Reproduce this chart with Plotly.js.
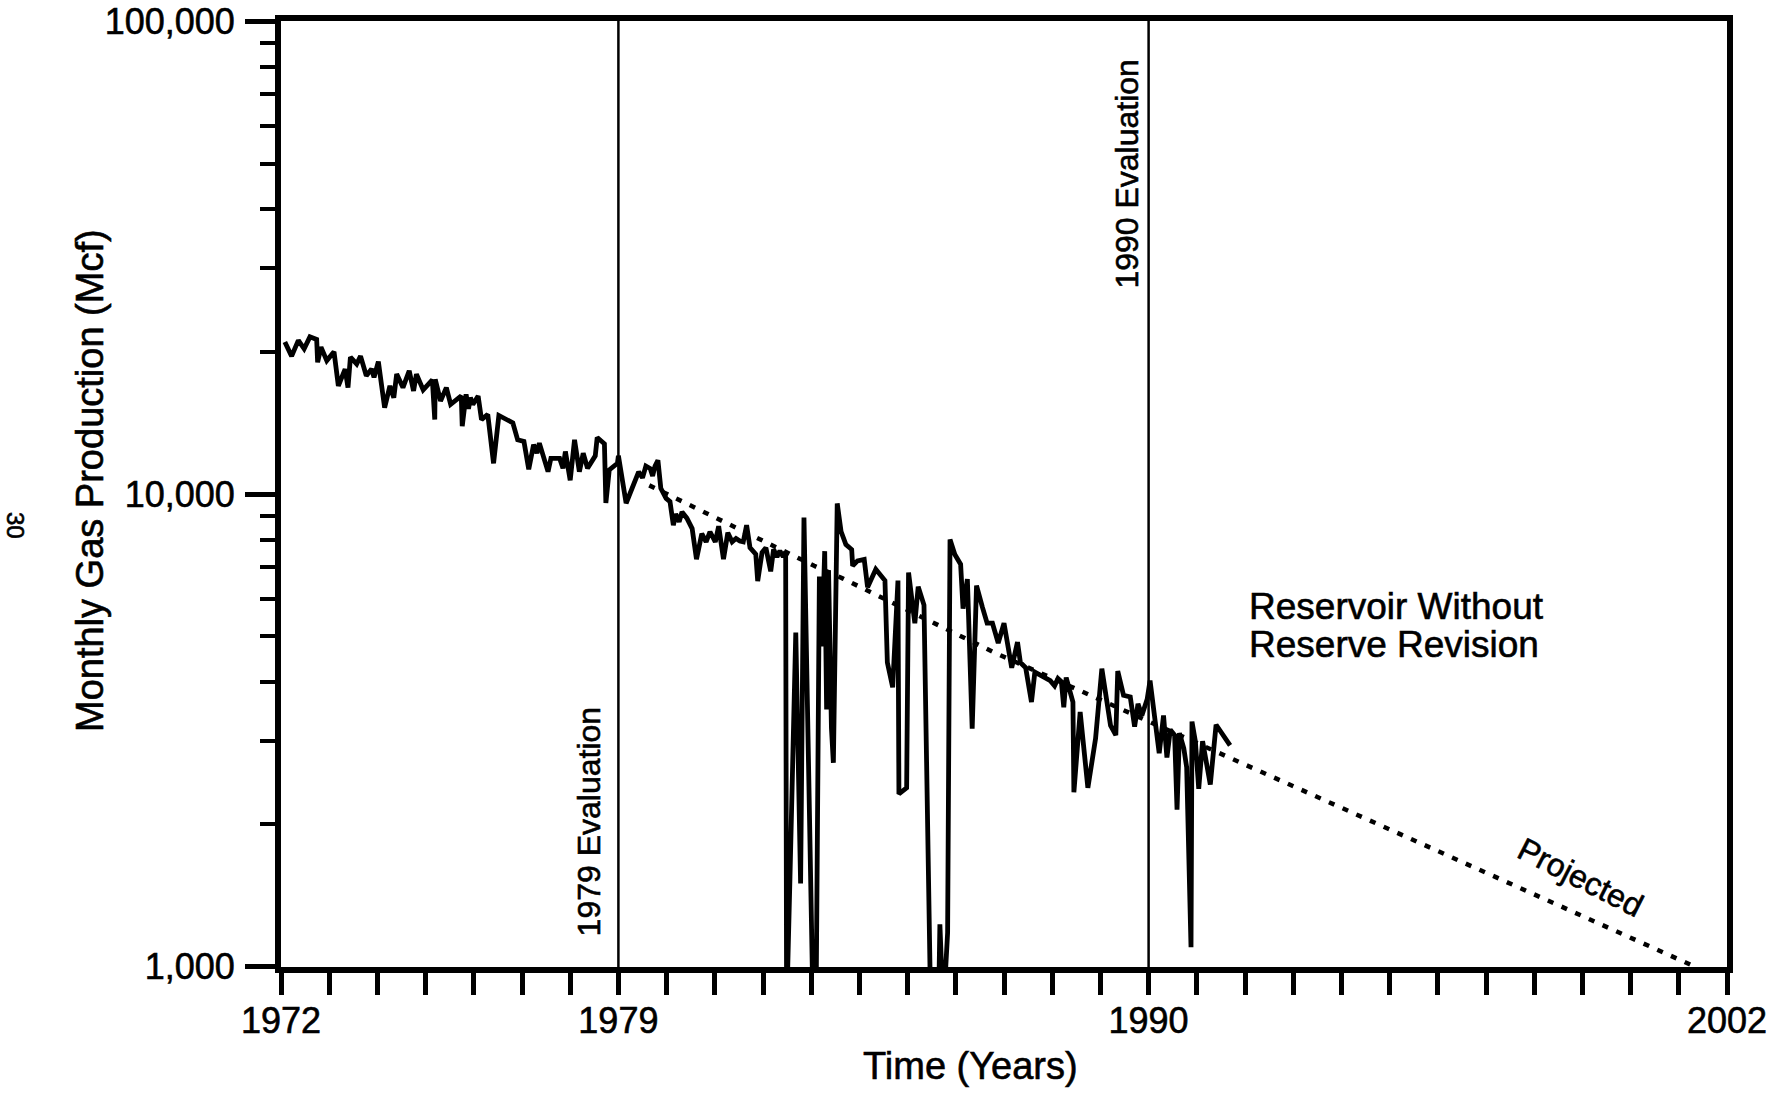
<!DOCTYPE html>
<html>
<head>
<meta charset="utf-8">
<script src="https://cdn.plot.ly/plotly-3.0.1.min.js"></script>
<style>
  html, body { margin: 0; padding: 0; background: #ffffff; }
  #chart { width: 1776px; height: 1095px; }
  #chart svg text { stroke: #000; stroke-width: 0.6px; }
</style>
</head>
<body>
<div id="chart"></div>
<script>
// ---- Data ----
// Monthly gas production (Mcf); values of 800 mark months below the 1,000 floor (shut-in)
const years = [
  1972.08,1972.22,1972.36,1972.48,1972.60,1972.74,1972.76,1972.83,1972.95,1973.10,
  1973.19,1973.33,1973.39,1973.44,1973.57,1973.65,1973.77,1973.88,1973.93,1974.02,
  1974.15,1974.26,1974.34,1974.40,1974.53,1974.66,1974.75,1974.81,1974.95,1975.14,
  1975.19,1975.20,1975.31,1975.43,1975.52,1975.74,1975.76,1975.84,1975.89,1975.93,
  1975.98,1976.09,1976.16,1976.29,1976.41,1976.52,1976.81,1976.91,1977.04,1977.14,
  1977.24,1977.31,1977.36,1977.43,1977.54,1977.60,1977.78,1977.85,1977.90,1978.00,
  1978.09,1978.19,1978.27,1978.36,1978.52,1978.56,1978.71,1978.74,1978.81,1978.98,
  1979.00,1979.16,1979.31,1979.42,1979.50,1979.57,1979.66,1979.71,1979.76,1979.82,
  1979.88,1979.99,1980.07,1980.14,1980.19,1980.26,1980.32,1980.42,1980.53,1980.62,
  1980.73,1980.82,1980.90,1981.01,1981.08,1981.18,1981.27,1981.36,1981.44,1981.52,
  1981.59,1981.66,1981.73,1981.85,1981.89,1981.98,1982.06,1982.11,1982.16,1982.22,
  1982.29,1982.35,1982.42,1982.47,1982.49,1982.56,1982.68,1982.78,1982.85,1983.04,
  1983.10,1983.17,1983.22,1983.28,1983.32,1983.36,1983.42,1983.46,1983.54,1983.62,
  1983.72,1983.84,1983.86,1983.96,1984.10,1984.17,1984.34,1984.53,1984.58,1984.69,
  1984.80,1984.82,1984.98,1985.02,1985.10,1985.15,1985.22,1985.34,1985.48,1985.64,
  1985.67,1985.74,1985.83,1985.88,1985.98,1986.10,1986.15,1986.24,1986.34,1986.43,
  1986.55,1986.65,1986.76,1986.88,1987.00,1987.16,1987.28,1987.34,1987.45,1987.57,
  1987.64,1987.78,1987.86,1987.96,1988.05,1988.12,1988.19,1988.24,1988.29,1988.38,
  1988.43,1988.45,1988.58,1988.74,1988.90,1989.03,1989.14,1989.21,1989.32,1989.36,
  1989.48,1989.62,1989.71,1989.78,1989.86,1989.97,1990.03,1990.12,1990.22,1990.31,
  1990.38,1990.45,1990.54,1990.59,1990.64,1990.73,1990.79,1990.88,1990.90,1990.97,
  1991.04,1991.12,1991.28,1991.40,1991.69
];
const production = [
  20960,19570,21130,20280,21500,21230,18990,20450,19150,20000,
  16930,18380,16790,19470,18840,19570,17790,18380,17640,19050,
  15220,16930,15990,17930,16790,18230,16520,17930,16600,17430,
  14370,17490,15730,16790,15470,16120,13910,16250,15140,15990,
  15470,16120,14370,14730,11610,14660,14140,13020,12920,11280,
  12710,12200,12810,12200,11150,11900,11900,11330,12300,10690,
  13020,11150,12200,11330,12040,13170,12770,9570,11240,11610,
  12050,9560,10530,11140,10820,11460,11320,10920,11460,11780,
  10280,9790,9640,8590,9070,8730,9160,8890,8450,7280,
  8240,7920,8320,7920,8550,7280,8280,7920,8050,7950,
  7920,8590,7700,7460,6540,7520,7700,7310,6860,7640,
  7360,7580,7360,7550,800,1550,5090,1500,8920,800,
  800,6690,4760,7570,3500,6900,3200,2700,9550,8330,
  7820,7630,7050,7220,7270,6350,6930,6560,4400,3900,
  6560,2320,2390,6820,5960,5330,6370,5820,800,800,
  1230,800,1180,8010,7450,7100,5720,6610,3190,6400,
  5770,5330,5330,4840,5330,4290,4860,4400,4290,3630,
  4200,4120,4060,4030,3930,4070,4010,3540,4090,3750,
  3630,2340,3460,2390,3040,4270,3570,3240,3090,4220,
  3750,3720,3220,3600,3400,3680,4030,3430,2830,3400,
  2770,3170,3090,2150,3120,2900,2640,1100,3300,3000,
  2380,3000,2430,3250,2940
];
// Projected decline (dotted)
const projYears  = [1979.64, 1983.06, 1983.65, 1986.79, 1988.62, 1991.86, 1994.82, 2001.34];
const projValues = [10430,   7050,    6630,    4625,    3820,    2710,    1990,    1000];
// Evaluation dates (vertical lines)
const evalYears  = [1979, 1990];
const evalLabels = ['1979 Evaluation', '1990 Evaluation'];
// Axis ticks
const xTickVals = [1972,1973,1974,1975,1976,1977,1978,1979,1980,1981,1982,1983,1984,1985,1986,1987,
                   1988,1989,1990,1991,1992,1993,1994,1995,1996,1997,1998,1999,2000,2001,2002];
const xTickText = ['1972','','','','','','','1979','','','','','','','','',
                   '','','1990','','','','','','','','','','','','2002'];
const yTickVals = [1000, 10000, 100000];
const yTickText = ['1,000', '10,000', '100,000'];
const yMinorTicks = [2000,3000,4000,5000,6000,7000,8000,9000,
                     20000,30000,40000,50000,60000,70000,80000,90000];

// ---- Chart ----
const FONT = 'Liberation Sans, Arial, Helvetica, sans-serif';
const L = 281, T = 21, W = 1446, H = 946;
const px = x => (x - L) / W;          // pixel -> paper x
const py = y => (T + H - y) / H;      // pixel -> paper y

const traces = [
  {
    x: projYears, y: projValues, type: 'scatter', mode: 'lines',
    line: { color: '#000', width: 4.5, dash: '6px,9px' },
    hoverinfo: 'skip'
  },
  {
    x: years, y: production, type: 'scatter', mode: 'lines',
    line: { color: '#000', width: 4.8 },
    hoverinfo: 'skip'
  }
];

const shapes = evalYears.map(yr => ({
  type: 'line', xref: 'x', yref: 'paper', x0: yr, x1: yr, y0: 0, y1: 1,
  line: { color: '#000', width: 2.5 }
}));

function ann(o) {
  return Object.assign({ showarrow: false, xanchor: 'center', yanchor: 'middle',
                         font: { family: FONT, size: 36, color: '#000' } }, o);
}

const annotations = [
  ann({ text: evalLabels[0], xref: 'x', yref: 'paper', x: evalYears[0], xshift: -29, y: py(821),
        textangle: -90, font: { family: FONT, size: 32, color: '#000' } }),
  ann({ text: evalLabels[1], xref: 'x', yref: 'paper', x: evalYears[1], xshift: -22, y: py(174),
        textangle: -90, font: { family: FONT, size: 32, color: '#000' } }),
  ann({ text: 'Reservoir Without', xref: 'paper', yref: 'paper', x: px(1247), y: py(606),
        xanchor: 'left', font: { family: FONT, size: 37, color: '#000' } }),
  ann({ text: 'Reserve Revision', xref: 'paper', yref: 'paper', x: px(1247), y: py(644),
        xanchor: 'left', font: { family: FONT, size: 37, color: '#000' } }),
  ann({ text: 'Projected', xref: 'paper', yref: 'paper', x: px(1580), y: py(877),
        textangle: 27, font: { family: FONT, size: 32, color: '#000' } }),
  ann({ text: 'Monthly Gas Production (Mcf)', xref: 'paper', yref: 'paper', x: px(90), y: py(481),
        textangle: -90, font: { family: FONT, size: 38, color: '#000' } }),
  ann({ text: 'Time (Years)', xref: 'paper', yref: 'paper', x: px(970), y: py(1066),
        font: { family: FONT, size: 38, color: '#000' } }),
  ann({ text: '30', xref: 'paper', yref: 'paper', x: px(16), y: py(525),
        textangle: 90, font: { family: FONT, size: 24, color: '#000' } })
];

const layout = {
  width: 1776, height: 1095,
  margin: { l: L, r: 1776 - L - W, t: T, b: 1095 - T - H, pad: 0 },
  paper_bgcolor: '#fff', plot_bgcolor: '#fff',
  showlegend: false,
  font: { family: FONT, size: 36, color: '#000' },
  xaxis: {
    range: [1972, 2002], tickmode: 'array', tickvals: xTickVals, ticktext: xTickText,
    showgrid: false, zeroline: false, showline: true, linewidth: 6, linecolor: '#000', mirror: true,
    ticks: 'outside', ticklen: 22, tickwidth: 5, tickcolor: '#000',
    tickfont: { family: FONT, size: 36, color: '#000' }, ticklabelstandoff: -5,
    ticklabeloverflow: 'allow'
  },
  yaxis: {
    type: 'log', range: [2.9995, 5.0005], tickmode: 'array', tickvals: yTickVals, ticktext: yTickText,
    showgrid: false, zeroline: false, showline: true, linewidth: 6, linecolor: '#000', mirror: true,
    ticks: 'outside', ticklen: 30, tickwidth: 5, tickcolor: '#000',
    tickfont: { family: FONT, size: 36, color: '#000' }, ticklabelstandoff: 3,
    ticklabeloverflow: 'allow',
    minor: { tickmode: 'array', tickvals: yMinorTicks, ticks: 'outside', ticklen: 15, tickwidth: 4,
             tickcolor: '#000', showgrid: false }
  },
  shapes: shapes,
  annotations: annotations
};

Plotly.newPlot('chart', traces, layout, { displayModeBar: false, staticPlot: true });
</script>
</body>
</html>
